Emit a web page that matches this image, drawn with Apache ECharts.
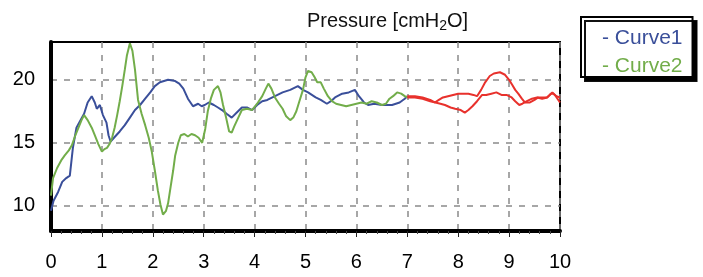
<!DOCTYPE html>
<html>
<head>
<meta charset="utf-8" />
<title>Pressure</title>
<script src="https://cdn.jsdelivr.net/npm/echarts@6/dist/echarts.min.js"></script>
<style>
  html,
  body {
    margin: 0;
    padding: 0;
    background: #fff;
  }
  #chart {
    width: 703px;
    height: 277px;
  }
</style>
</head>
<body>
<div id="chart"></div>
<script>
const xTicks = [0, 1, 2, 3, 4, 5, 6, 7, 8, 9, 10],
  yTicks = [10, 15, 20];

const seriesNames = ["Curve1", "Curve2"];

// [time, pressure], up to t = 7
const curve1 = [
  [0, 9.6], [0.05, 10.4], [0.14, 11.1], [0.22, 11.9], [0.3, 12.2], [0.37, 12.4],
  [0.43, 14.6], [0.5, 16.2], [0.58, 16.8], [0.65, 17.3], [0.72, 18.2], [0.8, 18.7],
  [0.86, 18.2], [0.9, 17.7], [0.96, 18.0], [1.02, 17.2], [1.09, 16.6], [1.13, 15.6],
  [1.17, 15.1], [1.26, 15.5], [1.35, 15.9], [1.45, 16.4], [1.55, 17.0], [1.65, 17.6],
  [1.75, 18.0], [1.85, 18.5], [1.95, 19.0], [2.04, 19.5], [2.14, 19.8], [2.3, 20.0],
  [2.44, 19.9], [2.52, 19.7], [2.6, 19.3], [2.69, 18.5], [2.79, 17.9], [2.89, 18.1],
  [2.96, 17.9], [3.02, 18.0], [3.1, 18.2], [3.2, 18.0], [3.28, 17.8], [3.36, 17.6],
  [3.45, 17.3], [3.55, 17.0], [3.65, 17.4], [3.75, 17.8], [3.85, 17.8], [3.95, 17.6],
  [4.05, 18.0], [4.15, 18.3], [4.25, 18.4], [4.4, 18.7], [4.55, 19.0], [4.7, 19.2],
  [4.85, 19.5], [4.95, 19.2], [5.05, 19.0], [5.2, 18.6], [5.3, 18.4], [5.42, 18.1],
  [5.5, 18.3], [5.58, 18.6], [5.72, 18.9], [5.85, 19.0], [5.97, 19.2], [6.05, 18.7],
  [6.15, 18.2], [6.23, 18.0], [6.35, 18.1], [6.5, 18.0], [6.7, 18.0], [6.85, 18.2],
  [6.95, 18.5], [7.0, 18.7],
];

const curve2 = [
  [0, 10.8], [0.04, 12.2], [0.12, 13.0], [0.2, 13.6], [0.27, 14.0], [0.35, 14.4],
  [0.41, 14.8], [0.47, 15.5], [0.53, 16.1], [0.6, 16.8], [0.65, 17.2], [0.72, 16.8],
  [0.8, 16.2], [0.86, 15.6], [0.93, 14.9], [1.0, 14.3], [1.05, 14.5], [1.1, 14.6],
  [1.15, 14.9], [1.2, 15.4], [1.25, 16.2], [1.3, 17.2], [1.35, 18.3], [1.4, 19.5],
  [1.45, 20.8], [1.49, 21.9], [1.55, 22.9], [1.6, 22.3], [1.65, 20.8], [1.71, 18.4],
  [1.78, 17.3], [1.85, 16.4], [1.92, 15.4], [1.98, 14.3], [2.04, 12.8], [2.1, 11.2],
  [2.15, 10.1], [2.2, 9.3], [2.26, 9.6], [2.3, 10.2], [2.35, 11.5], [2.4, 12.8],
  [2.44, 14.0], [2.5, 15.0], [2.55, 15.6], [2.62, 15.7], [2.69, 15.5], [2.76, 15.7],
  [2.83, 15.6], [2.9, 15.4], [2.97, 15.0], [3.03, 16.1], [3.08, 17.5], [3.14, 18.5],
  [3.2, 19.2], [3.28, 19.5], [3.33, 19.0], [3.38, 18.0], [3.44, 17.0], [3.5, 15.9],
  [3.55, 15.8], [3.6, 16.3], [3.68, 17.0], [3.75, 17.6], [3.85, 17.7], [3.95, 17.6],
  [4.05, 18.1], [4.15, 18.7], [4.22, 19.3], [4.27, 19.7], [4.33, 19.3], [4.4, 18.6],
  [4.48, 18.1], [4.55, 17.7], [4.62, 17.1], [4.7, 16.8], [4.76, 17.0], [4.82, 17.5],
  [4.88, 18.3], [4.95, 19.2], [5.0, 20.2], [5.05, 20.7], [5.12, 20.6], [5.18, 20.2],
  [5.23, 19.8], [5.3, 19.8], [5.36, 19.3], [5.44, 18.7], [5.52, 18.3], [5.6, 18.1],
  [5.7, 18.0], [5.8, 17.9], [5.9, 18.0], [6.0, 18.1], [6.1, 18.2], [6.2, 18.1],
  [6.3, 18.3], [6.4, 18.2], [6.5, 18.0], [6.58, 18.1], [6.65, 18.5], [6.72, 18.7],
  [6.8, 19.0], [6.88, 18.9], [6.95, 18.7], [7.0, 18.6],
];

// red part after t = 7
const redA = [
  [7.0, 18.7], [7.15, 18.7], [7.3, 18.6], [7.45, 18.4], [7.54, 18.2], [7.62, 18.4],
  [7.7, 18.6], [7.8, 18.7], [8.0, 18.9], [8.2, 18.9], [8.3, 18.8], [8.37, 18.7],
  [8.45, 19.2], [8.53, 19.8], [8.62, 20.3], [8.7, 20.5], [8.82, 20.6], [8.92, 20.4],
  [9.0, 20.0], [9.06, 19.6], [9.12, 19.2], [9.18, 18.9], [9.25, 18.5], [9.31, 18.2],
  [9.41, 18.2], [9.5, 18.4], [9.57, 18.6], [9.65, 18.6], [9.74, 18.6], [9.8, 18.8],
  [9.85, 19.0], [9.9, 18.8], [9.95, 18.5], [10, 18.2],
];

const redB = [
  [7.0, 18.6], [7.15, 18.6], [7.3, 18.5], [7.45, 18.3], [7.55, 18.2], [7.65, 18.1],
  [7.74, 18.0], [7.85, 17.8], [7.94, 17.7], [8.05, 17.6], [8.13, 17.4], [8.2, 17.6],
  [8.28, 17.9], [8.37, 18.3], [8.47, 18.8], [8.55, 18.8], [8.65, 18.9], [8.75, 19.0],
  [8.85, 18.8], [8.95, 18.8], [9.05, 18.6], [9.12, 18.3], [9.2, 18.0], [9.26, 18.1],
  [9.35, 18.3], [9.45, 18.5], [9.55, 18.6], [9.65, 18.5], [9.75, 18.6], [9.82, 18.9],
  [9.87, 18.9], [9.93, 18.7], [10, 18.6],
];

const blue = "#3a4f9a",
  green = "#72ad4a",
  red = "#e8312c",
  font = "'Liberation Sans', Arial, sans-serif";

const lineSeries = (name, data, color) => ({
  name: name,
  type: "line",
  data: data,
  showSymbol: false,
  silent: true,
  lineStyle: { color: color, width: 2 },
  itemStyle: { color: color },
});

echarts.init(document.querySelector("#chart")).setOption({
  animation: false,
  title: {
    text: "{a|Pressure [cmH}{s|2}{a|O]}",
    left: 302,
    top: 4,
    textStyle: {
      rich: {
        a: {
          fontFamily: font,
          fontSize: 20,
          fontWeight: "normal",
          color: "#111",
          lineHeight: 24,
        },
        s: {
          fontFamily: font,
          fontSize: 14,
          fontWeight: "normal",
          color: "#111",
          lineHeight: 24,
          verticalAlign: "bottom",
          padding: [10, 0, 0, 0],
        },
      },
    },
  },
  // legend drop shadow as a thick stroked corner (right and bottom)
  graphic: [
    {
      type: "polyline",
      z: 100,
      silent: true,
      shape: { points: [[695, 21], [695, 79], [585, 79]] },
      style: { fill: null, stroke: "#000", lineWidth: 4 },
    },
  ],
  legend: {
    orient: "vertical",
    left: 581,
    top: 17,
    z: 8,
    padding: [11, 10, 0, 16],
    itemGap: 7,
    itemWidth: 0,
    itemHeight: 0,
    icon: "none",
    selectedMode: false,
    backgroundColor: "#fff",
    borderColor: "#000",
    borderWidth: 2,
    shadowColor: "#111",
    shadowOffsetX: 4,
    shadowOffsetY: 4,
    shadowBlur: 0,
    formatter: "- {name}",
    data: [
      { name: seriesNames[0], textStyle: { color: blue } },
      { name: seriesNames[1], textStyle: { color: green } },
    ],
    textStyle: { fontFamily: font, fontSize: 21 },
  },
  grid: {
    left: 51,
    right: 143,
    top: 42,
    bottom: 46,
    show: true,
    borderColor: "#000",
    borderWidth: 2,
  },
  xAxis: {
    type: "value",
    min: 0,
    max: 10,
    interval: 1,
    axisLine: { lineStyle: { color: "#000", width: 4 } },
    axisTick: { show: true, length: 6, lineStyle: { color: "#222", width: 1 } },
    minorTick: { show: true, splitNumber: 5, length: 3, lineStyle: { color: "#444" } },
    axisLabel: {
      margin: 21,
      color: "#000",
      fontFamily: font,
      fontSize: 20,
      formatter: (v) => (xTicks.includes(v) ? String(v) : ""),
    },
    splitLine: {
      show: true,
      lineStyle: { color: "#8a8a8a", type: [6, 7], width: 1.5 },
    },
  },
  yAxis: {
    type: "value",
    min: 8,
    max: 23,
    axisLine: { show: true, lineStyle: { color: "#000", width: 4 } },
    axisTick: { show: false, customValues: yTicks },
    axisLabel: {
      customValues: yTicks,
      margin: 16,
      color: "#000",
      fontFamily: font,
      fontSize: 20,
    },
    splitLine: {
      show: true,
      lineStyle: { color: "#8a8a8a", type: [6, 7], width: 1.5 },
    },
  },
  series: [
    lineSeries(seriesNames[0], curve1, blue),
    lineSeries(seriesNames[1], curve2, green),
    lineSeries("redA", redA, red),
    lineSeries("redB", redB, red),
  ],
});
</script>
</body>
</html>
